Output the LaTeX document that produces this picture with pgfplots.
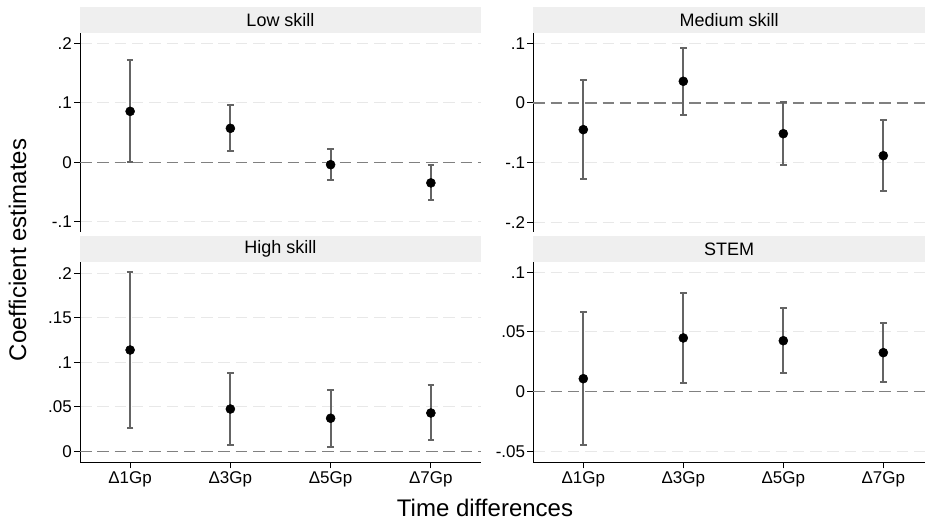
\documentclass[border=0pt]{standalone}
\usepackage{pgfplots}
\pgfplotsset{compat=1.18}
\usepackage{fontspec}
\setmainfont{Liberation Sans}
\definecolor{stripc}{RGB}{239,239,239}
\definecolor{gridc}{RGB}{232,232,232}
\definecolor{zeroc}{RGB}{128,128,128}
\definecolor{barc}{RGB}{100,100,100}
\newcommand{\tickfont}{\fontsize{17bp}{20bp}\selectfont}
\newcommand{\titlefont}{\fontsize{18bp}{21bp}\selectfont}
\newcommand{\labfont}{\fontsize{24bp}{28bp}\selectfont}
\pgfplotsset{
  panel/.style={
    scale only axis, clip=false,
    xmin=0.5,
    axis line style={black, line width=1bp},
    tick align=outside, major tick length=6bp,
    tick style={black, line width=1bp},
    ymajorgrids, grid style={gridc, line width=1bp, dash pattern=on 11.5bp off 5.8bp},
    yticklabel style={font=\tickfont, inner sep=2bp},
    xticklabel style={font=\tickfont, inner sep=3bp},
    xtick={1,2,3,4},
    xticklabels={Δ1Gp,Δ3Gp,Δ5Gp,Δ7Gp},
  },
  toppanel/.style={panel, axis y line*=left, axis x line=none},
  botpanel/.style={panel, axis y line*=left, axis x line*=bottom},
  est/.style={only marks, mark=*, mark size=4.5bp, black, mark options={fill=black, draw=black, line width=0.5bp},
    error bars/y dir=both, error bars/y explicit,
    /pgfplots/error bars/error bar style={draw=barc, line width=2bp},
    /pgfplots/error bars/error mark options={rotate=90, mark size=3.2bp, line width=2bp, draw=barc}},
}
\newcommand{\strip}[1]{%
  \fill[stripc] (rel axis cs:0,1) rectangle ([yshift=26bp]rel axis cs:1,1);
  \node[font=\titlefont] at ([yshift=13bp]rel axis cs:0.5,1) {#1};}
\newcommand{\zeroline}[1]{\draw[zeroc, line width=1.5bp, dash pattern=on 11.5bp off 5.8bp] (axis cs:0.5,0) -- (axis cs:#1,0);}
\begin{document}
\begin{tikzpicture}
\useasboundingbox (0,0) rectangle (925bp,528bp);
% Low skill
\begin{axis}[toppanel, at={(80bp,296bp)}, anchor=south west, width=401bp, height=199bp,
  xmax=4.5, ymin=-0.117, ymax=0.217, ytick={-0.1,0,0.1,0.2}, yticklabels={-.1,0,.1,.2}]
\strip{Low skill}
\zeroline{4.5}
\addplot+[est] table[x=x, y=y, y error plus=ep, y error minus=em] {
x y ep em
1 0.0855 0.0855 0.0845
2 0.0570 0.0387 0.0385
3 -0.0040 0.0270 0.0255
4 -0.0346 0.0296 0.0280
};
\end{axis}
% Medium skill
\begin{axis}[toppanel, at={(533.3bp,296bp)}, anchor=south west, width=391.7bp, height=199bp,
  xmax=4.417, ymin=-0.2164, ymax=0.1174, ytick={-0.2,-0.1,0,0.1}, yticklabels={-.2,-.1,0,.1}]
\strip{Medium skill}
\zeroline{4.417}
\addplot+[est] table[x=x, y=y, y error plus=ep, y error minus=em] {
x y ep em
1 -0.0447 0.0827 0.0828
2 0.0364 0.0564 0.0565
3 -0.0515 0.0537 0.0530
4 -0.0884 0.0604 0.0596
};
\end{axis}
% High skill
\begin{axis}[botpanel, at={(80bp,65.7bp)}, anchor=south west, width=401bp, height=200.3bp,
  xmax=4.5, ymin=-0.0124, ymax=0.2127, ytick={0,0.05,0.1,0.15,0.2}, yticklabels={0,.05,.1,.15,.2}]
\strip{High skill}
\zeroline{4.5}
\addplot+[est] table[x=x, y=y, y error plus=ep, y error minus=em] {
x y ep em
1 0.1138 0.0872 0.0876
2 0.0475 0.0408 0.0408
3 0.0371 0.0318 0.0323
4 0.0430 0.0311 0.0306
};
\end{axis}
% STEM
\begin{axis}[botpanel, at={(533.3bp,65.7bp)}, anchor=south west, width=391.7bp, height=200.3bp,
  xmax=4.417, ymin=-0.0591, ymax=0.1086, ytick={-0.05,0,0.05,0.1}, yticklabels={-.05,0,.05,.1}]
\strip{STEM}
\zeroline{4.417}
\addplot+[est] table[x=x, y=y, y error plus=ep, y error minus=em] {
x y ep em
1 0.0109 0.0561 0.0555
2 0.0450 0.0380 0.0380
3 0.0427 0.0277 0.0273
4 0.0327 0.0251 0.0246
};
\end{axis}
\node[rotate=90, font=\labfont] at (17.5bp,278bp) {Coefficient estimates};
\node[font=\labfont] at (485bp,20bp) {Time differences};
\end{tikzpicture}
\end{document}
